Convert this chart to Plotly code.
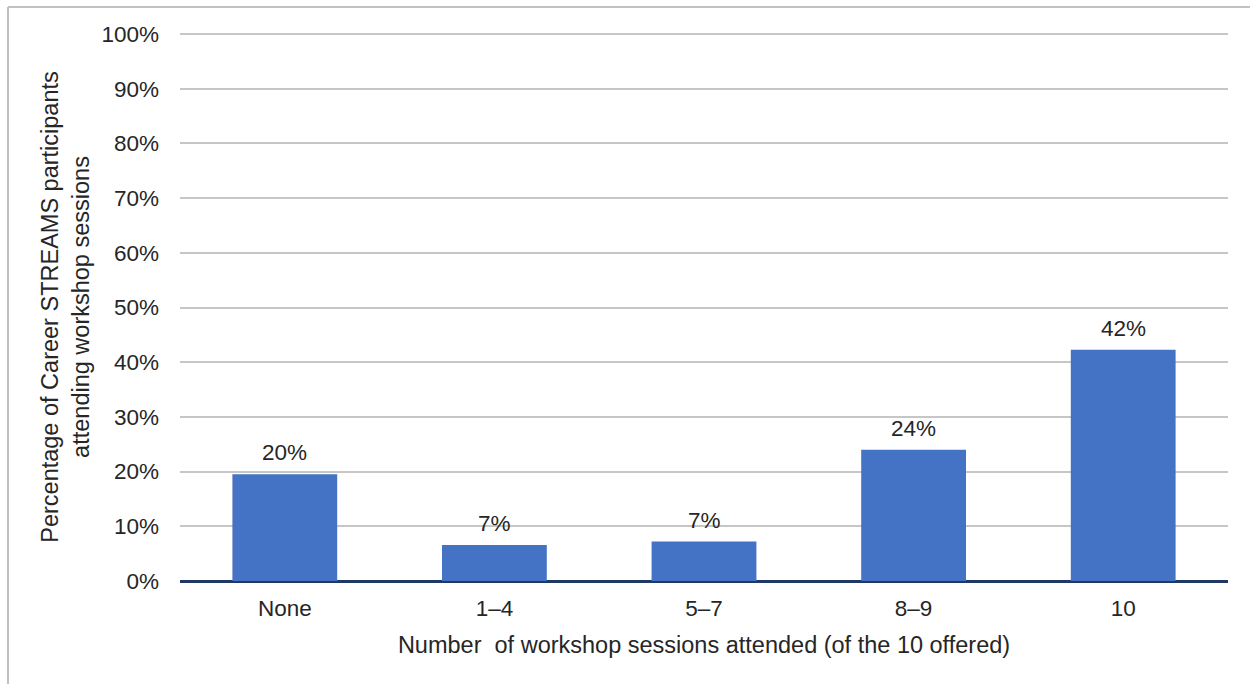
import plotly.graph_objects as go

categories = ["None", "1\u20134", "5\u20137", "8\u20139", "10"]
values = [0.195, 0.066, 0.072, 0.240, 0.423]
labels = ["20%", "7%", "7%", "24%", "42%"]

W, H = 1250, 684
L, R, T, B = 180, 22, 33, 103
pw, ph = W - L - R, H - T - B
FS = 22.5
TS = 23.5

fig = go.Figure(go.Bar(
    x=categories, y=values,
    marker=dict(color="#4472C4", line=dict(width=0)), width=0.5,
))

for i, (v, t) in enumerate(zip(values, labels)):
    fig.add_annotation(x=i, y=v, text=t, showarrow=False, yanchor="bottom",
                       yshift=7, font=dict(size=FS, color="#262626"))

def px_x(p):
    return (p - L) / pw

def px_y(p):
    return (H - B - p) / ph

fig.update_layout(
    width=W, height=H,
    margin=dict(l=L, r=R, t=T, b=B),
    plot_bgcolor="white", paper_bgcolor="white",
    font=dict(family="Liberation Sans, Arial", size=FS, color="#262626"),
    showlegend=False,
    xaxis=dict(
        type="category",
        showgrid=False, ticks="", tickfont=dict(size=FS),
        showline=False, ticklabelstandoff=11,
        title=dict(text="Number  of workshop sessions attended (of the 10 offered)",
                   font=dict(size=TS), standoff=17),
    ),
    yaxis=dict(
        range=[0, 1.002], tickvals=[i / 10 for i in range(11)], tickformat=".0%",
        showgrid=True, gridcolor="#c6c6c6", gridwidth=1.5,
        zeroline=True, zerolinecolor="#1f3864", zerolinewidth=2.5,
        ticks="", ticklabelstandoff=20, tickfont=dict(size=FS),
        title=dict(text="Percentage of Career STREAMS participants<br>attending workshop sessions",
                   font=dict(size=TS), standoff=5),
    ),
    shapes=[
        dict(type="line", xref="paper", yref="paper",
             x0=px_x(8), x1=px_x(W + 5), y0=px_y(7), y1=px_y(7),
             line=dict(color="#c0c0c0", width=2)),
        dict(type="line", xref="paper", yref="paper",
             x0=px_x(8), x1=px_x(8), y0=px_y(7), y1=px_y(H + 5),
             line=dict(color="#c0c0c0", width=2)),
    ],
)

fig.write_html("out.html")
